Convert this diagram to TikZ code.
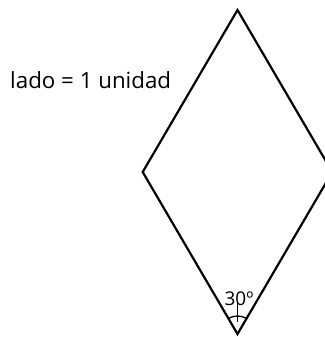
\documentclass[tikz,border=0pt]{standalone}
\usepackage{fontspec}
\setmainfont{Open Sans}
\usetikzlibrary{calc}

\begin{document}
\begin{tikzpicture}[x=1bp,y=-1bp]
  \useasboundingbox (0,0) rectangle (325,337);
  \clip (0,0) rectangle (325,337);
  % vertices of the rhombus
  \coordinate (c) at (237.5,172);
  \foreach \ang/\n in {0/r,90/b,180/l,270/t}{\coordinate (\n) at ($(c)+(\ang:94.8 and 162)$);}
  \draw[line width=2.2bp,line join=miter] (t)--(r)--(b)--(l)--cycle;
  % angle mark at the bottom vertex
  \draw[line width=1.3bp] ($(b)!18bp!(l)$) arc[start angle=120.3,end angle=59.7,radius=18bp];
  \draw[line width=1.3bp] ($(b)+(0,-12)$) -- ($(b)+(0,-32)$);
  \node[font=\fontsize{19}{19}\selectfont,inner sep=0pt] (ang) at (239,299) {30º};
  \node[font=\fontsize{22.4}{22.4}\selectfont,inner sep=0pt,anchor=base west] (lado) at (10,88) {lado = 1 unidad};
\end{tikzpicture}
\end{document}
